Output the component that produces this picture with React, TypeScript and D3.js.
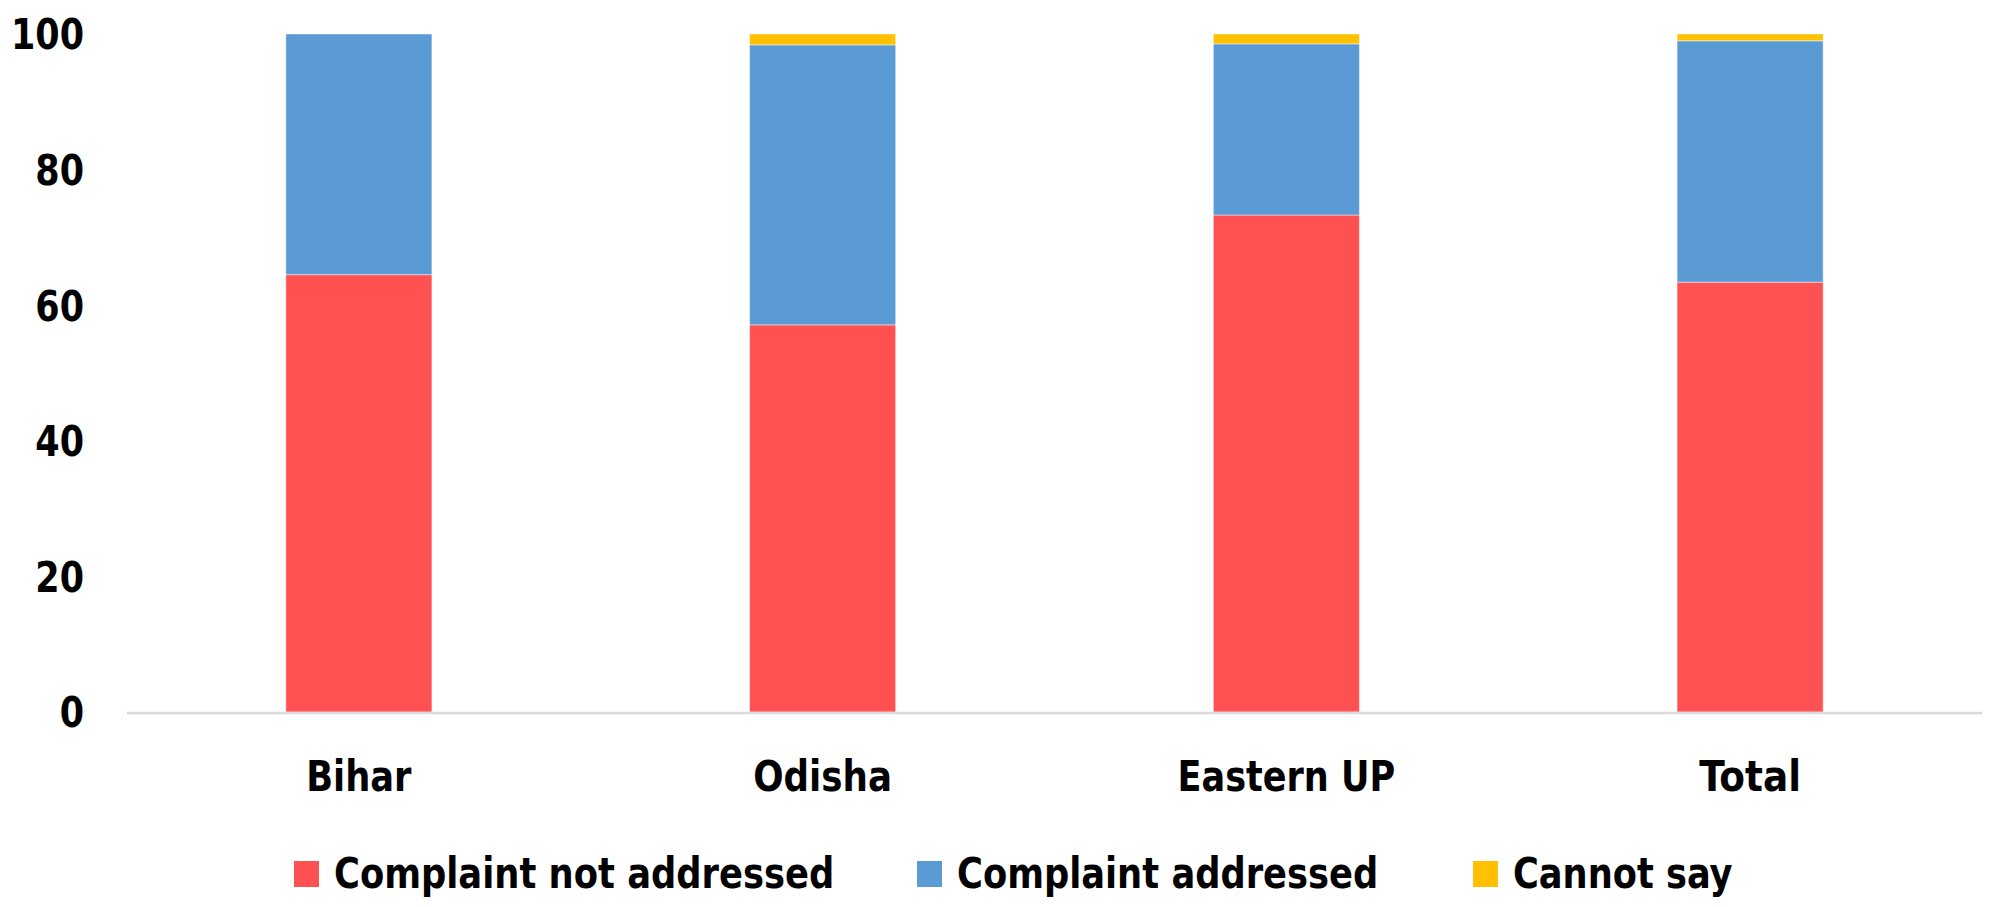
import { useEffect, useRef } from "react";
import * as d3 from "d3";

const regions = ["Bihar", "Odisha", "Eastern UP", "Total"];
const notAddressed = [64.5, 57.1, 73.3, 63.4];
const addressed = [35.5, 41.3, 25.25, 35.6];
const cannotSay = [0, 1.6, 1.45, 1.0];
const seriesNames = ["Complaint not addressed", "Complaint addressed", "Cannot say"];
const seriesColors = ["#FF5052", "#5B9BD5", "#FFC000"];
const yTicks = [0, 20, 40, 60, 80, 100];

const FONT = "'DejaVu Sans Condensed', 'DejaVu Sans', sans-serif";
const FONT_SIZE = 43;
const EM = 48;

// rough Calibri Bold advance widths, so the text keeps the original's width
const calibri: Record<string, number> = {
  B: 0.561, C: 0.529, E: 0.488, O: 0.676, P: 0.532, T: 0.495, U: 0.653,
  a: 0.494, b: 0.537, d: 0.537, e: 0.503, h: 0.537, i: 0.246, l: 0.246,
  m: 0.813, n: 0.537, o: 0.537, p: 0.537, r: 0.355, s: 0.399, t: 0.347,
  y: 0.474, " ": 0.226,
};
const textWidth = (s: string) =>
  s.split("").reduce((w, c) => w + (calibri[c] ?? (/[0-9]/.test(c) ? 0.507 : 0.5)), 0) * EM;

export default function App() {
  const svgRef = useRef<SVGSVGElement>(null);

  useEffect(() => {
    if (!svgRef.current) return;
    document.body.style.margin = "0";

    const width = 1998;
    const height = 907;
    const margin = { top: 34, right: 16, bottom: 195, left: 127 };

    const svg = d3.select(svgRef.current);
    svg.selectAll("*").remove();

    const rows = regions.map((r, i) => ({
      region: r,
      s0: notAddressed[i],
      s1: addressed[i],
      s2: cannotSay[i],
    }));

    const stacked = d3.stack<any>().keys(["s0", "s1", "s2"])(rows);

    const x = d3
      .scaleBand()
      .domain(regions)
      .range([margin.left, width - margin.right])
      .paddingInner(0.685)
      .paddingOuter(0.3425);

    const y = d3
      .scaleLinear()
      .domain([0, 100])
      .range([height - margin.bottom, margin.top]);

    // bars
    svg
      .append("g")
      .selectAll("g")
      .data(stacked)
      .join("g")
      .attr("fill", (_, i) => seriesColors[i])
      .selectAll("rect")
      .data((d) => d)
      .join("rect")
      .attr("x", (d) => x(d.data.region) || 0)
      .attr("y", (d) => y(d[1]))
      .attr("width", x.bandwidth())
      .attr("height", (d) => Math.max(0, y(d[0]) - y(d[1])))
      .attr("stroke", "rgba(255,255,255,0.45)")
      .attr("stroke-width", 1);

    // x axis line
    svg
      .append("line")
      .attr("x1", margin.left)
      .attr("x2", width - margin.right)
      .attr("y1", y(0) + 1)
      .attr("y2", y(0) + 1)
      .attr("stroke", "#D9D9D9")
      .attr("stroke-width", 2.7);

    const styleText = (sel: any) =>
      sel
        .attr("font-family", FONT)
        .attr("font-weight", "bold")
        .attr("font-size", FONT_SIZE)
        .attr("fill", "#000")
        .attr("lengthAdjust", "spacingAndGlyphs")
        .attr("textLength", (d: any) => textWidth(String(d)));

    // y tick labels
    svg
      .append("g")
      .selectAll("text")
      .data(yTicks)
      .join("text")
      .attr("x", 84)
      .attr("y", (d) => y(d))
      .attr("dy", "0.36em")
      .attr("text-anchor", "end")
      .call(styleText)
      .text((d) => d);

    // x labels
    svg
      .append("g")
      .selectAll("text")
      .data(regions)
      .join("text")
      .attr("x", (d) => (x(d) || 0) + x.bandwidth() / 2)
      .attr("y", 791)
      .attr("text-anchor", "middle")
      .call(styleText)
      .text((d) => d);

    // legend
    const legendX = [294, 917, 1473];
    const legend = svg
      .append("g")
      .selectAll("g")
      .data(seriesNames)
      .join("g")
      .attr("transform", (_, i) => `translate(${legendX[i]},0)`);

    legend
      .append("rect")
      .attr("x", 0)
      .attr("y", 861)
      .attr("width", 25)
      .attr("height", 26)
      .attr("fill", (_, i) => seriesColors[i]);

    legend
      .append("text")
      .attr("x", 40)
      .attr("y", 888)
      .call(styleText)
      .text((d) => d);
  }, []);

  return <svg ref={svgRef} width={1998} height={907} style={{ display: "block" }}></svg>;
}
